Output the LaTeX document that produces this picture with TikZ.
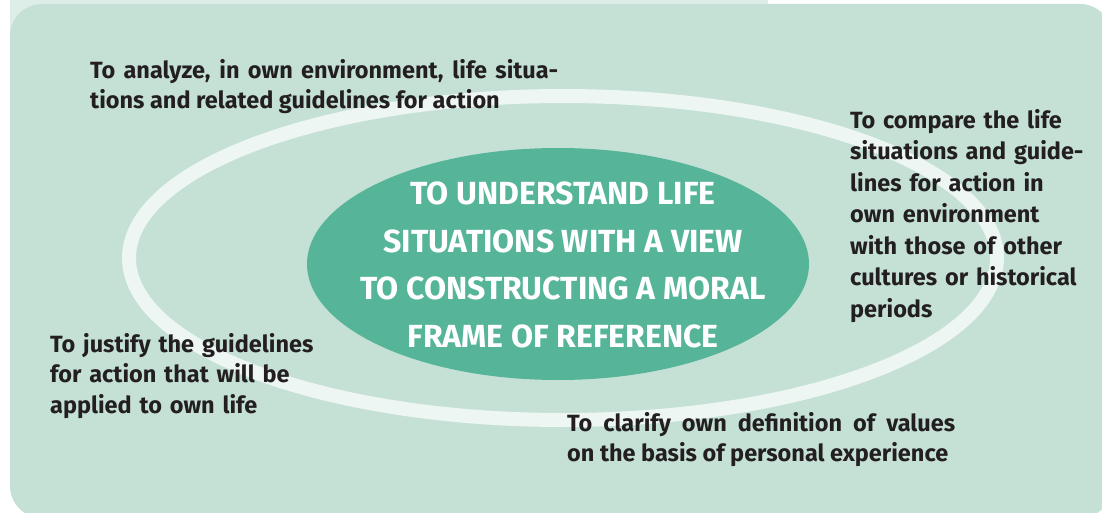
\documentclass[tikz,border=0pt]{standalone}
\usepackage{fontspec}
\setmainfont{Fira Sans}
\definecolor{panelgreen}{HTML}{C5E1D6}
\definecolor{tabgreen}{HTML}{DDEEE8}
\definecolor{ringwhite}{HTML}{EDF6F2}
\definecolor{coregreen}{HTML}{56B499}
\definecolor{inkdark}{HTML}{231F20}
\begin{document}
\begin{tikzpicture}[x=1pt,y=-1pt,line cap=round,line join=round,
  goal/.style={inner sep=0pt,text=inkdark,font=\bfseries\fontsize{23.5}{30.5}\selectfont}]
  \useasboundingbox (0,0) rectangle (1102,513);
  % panel with the light tab behind it
  \fill[tabgreen] (10,0) rectangle (768,40);
  \fill[panelgreen,rounded corners=32] (10,4) rectangle (1112,518);
  % ring
  \draw[ringwhite,line width=14] (563,258) ellipse[x radius=434,y radius=162];
  % centre
  \fill[coregreen] (558,264) ellipse[x radius=251,y radius=116];
  \node[inner sep=0pt,text=white,align=center,
    font=\bfseries\fontsize{32}{47.5}\selectfont] (core) at (563,265)
    {TO UNDERSTAND LIFE\\SITUATIONS WITH A VIEW\\TO CONSTRUCTING A MORAL\\FRAME OF REFERENCE};
  % goals round the ring
  \node[goal,anchor=north west,text width=468,align=justify] (analyze) at (90,59)
    {To analyze, in own environment, life situa-\linebreak tions and related guidelines for action};
  \node[goal,anchor=north west,text width=260,align=left,
    font=\bfseries\fontsize{23.5}{31.5}\selectfont] (compare) at (850,109)
    {To compare the life\\situations and guide-\\lines for action in\\own environment\\with those of other\\cultures or historical\\periods};
  \node[goal,anchor=north west,text width=290,align=left] (justify) at (50,333)
    {To justify the guidelines\\for action that will be\\applied to own life};
  \node[goal,anchor=north west,text width=388,align=justify] (clarify) at (567,412)
    {To clarify own definition of values\linebreak on the basis of personal experience};
\end{tikzpicture}
\end{document}
